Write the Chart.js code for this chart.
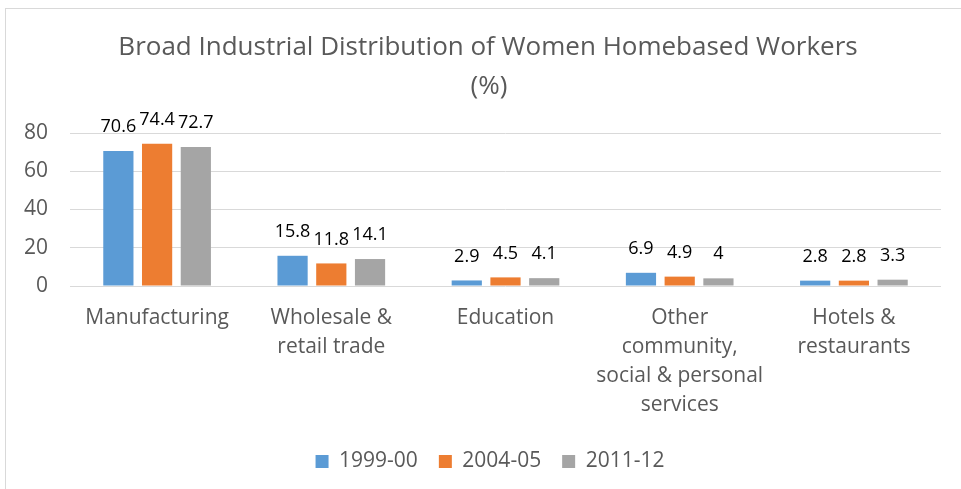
<!DOCTYPE html>
<html>
<head>
<meta charset="utf-8">
<script src="https://cdn.jsdelivr.net/npm/chart.js@4.4.1/dist/chart.umd.min.js"></script>
<style>
  html, body { margin: 0; padding: 0; background: #fff; }
  #wrap { width: 961px; height: 489px; position: relative; }
</style>
</head>
<body>
<div id="wrap"><canvas id="industry-chart" width="961" height="489"></canvas></div>
<script>
// categories + series
const categories = [
  'Manufacturing',
  ['Wholesale &', 'retail trade'],
  'Education',
  ['Other', 'community,', 'social & personal', 'services'],
  ['Hotels &', 'restaurants']
];
const seriesNames = ['1999-00', '2004-05', '2011-12'];
const values1999 = [70.6, 15.8, 2.9, 6.9, 2.8];
const values2004 = [74.4, 11.8, 4.5, 4.9, 2.8];
const values2011 = [72.7, 14.1, 4.1, 4, 3.3];
const yTicks = [0, 20, 40, 60, 80];

const titleLines = ['Broad Industrial Distribution of Women Homebased Workers', '(%)'];
const colors = ['#5B9BD5', '#ED7D31', '#A5A5A5'];
const FONT = "'Open Sans', sans-serif";

// outer frame + title, drawn on the canvas like the office chart
const frameAndTitle = {
  id: 'frameAndTitle',
  beforeDraw(chart) {
    const ctx = chart.ctx;
    ctx.save();
    ctx.strokeStyle = '#d9d9d9';
    ctx.lineWidth = 1;
    ctx.strokeRect(5.5, 8.5, 1000, 1000);
    ctx.fillStyle = '#595959';
    ctx.font = '26px ' + FONT;
    ctx.textAlign = 'center';
    ctx.textBaseline = 'middle';
    ctx.fillText(titleLines[0], 488, 48);
    ctx.fillText(titleLines[1], 489, 87);
    ctx.restore();
  }
};

// value labels sitting above each bar
const valueLabels = {
  id: 'valueLabels',
  afterDatasetsDraw(chart) {
    const ctx = chart.ctx;
    ctx.save();
    ctx.fillStyle = '#000';
    ctx.font = '18px ' + FONT;
    ctx.textAlign = 'center';
    ctx.textBaseline = 'middle';
    chart.data.datasets.forEach((ds, i) => {
      chart.getDatasetMeta(i).data.forEach((bar, j) => {
        ctx.fillText(String(ds.data[j]), bar.x, bar.y - 24);
      });
    });
    ctx.restore();
  }
};

const ctx = document.getElementById('industry-chart').getContext('2d');
const myChart = new Chart(ctx, {
  type: 'bar',
  data: {
    labels: categories,
    datasets: [
      { label: seriesNames[0], data: values1999, backgroundColor: colors[0] },
      { label: seriesNames[1], data: values2004, backgroundColor: colors[1] },
      { label: seriesNames[2], data: values2011, backgroundColor: colors[2] }
    ]
  },
  options: {
    responsive: false,
    animation: false,
    layout: { padding: { top: 133, left: 19, right: 0, bottom: 7 } },
    datasets: { bar: { categoryPercentage: 0.667, barPercentage: 0.78 } },
    plugins: {
      title: { display: false },
      tooltip: { enabled: false },
      legend: {
        position: 'bottom',
        labels: {
          boxWidth: 13,
          boxHeight: 13,
          padding: 21,
          color: '#595959',
          font: { family: FONT, size: 21 }
        }
      }
    },
    scales: {
      x: {
        grid: { display: false, drawTicks: false },
        border: { display: false },
        ticks: {
          color: '#595959',
          font: { family: FONT, size: 21, lineHeight: 1.38 },
          padding: 18,
          maxRotation: 0,
          autoSkip: false
        },
        afterFit(scale) { scale.height = 144; }
      },
      y: {
        min: 0,
        max: 80,
        afterBuildTicks(scale) { scale.ticks = yTicks.map(v => ({ value: v })); },
        grid: { color: '#d9d9d9', lineWidth: 1, drawTicks: false },
        border: { display: false },
        ticks: {
          color: '#595959',
          font: { family: FONT, size: 21 },
          padding: 22
        },
        afterFit(scale) { scale.width = 51; }
      },
      // empty right axis, only keeps the plot clear of the right edge
      yRight: {
        position: 'right',
        grid: { display: false, drawTicks: false },
        border: { display: false },
        ticks: { display: false },
        afterFit(scale) { scale.width = 20; }
      }
    }
  },
  plugins: [frameAndTitle, valueLabels]
});
</script>
</body>
</html>
